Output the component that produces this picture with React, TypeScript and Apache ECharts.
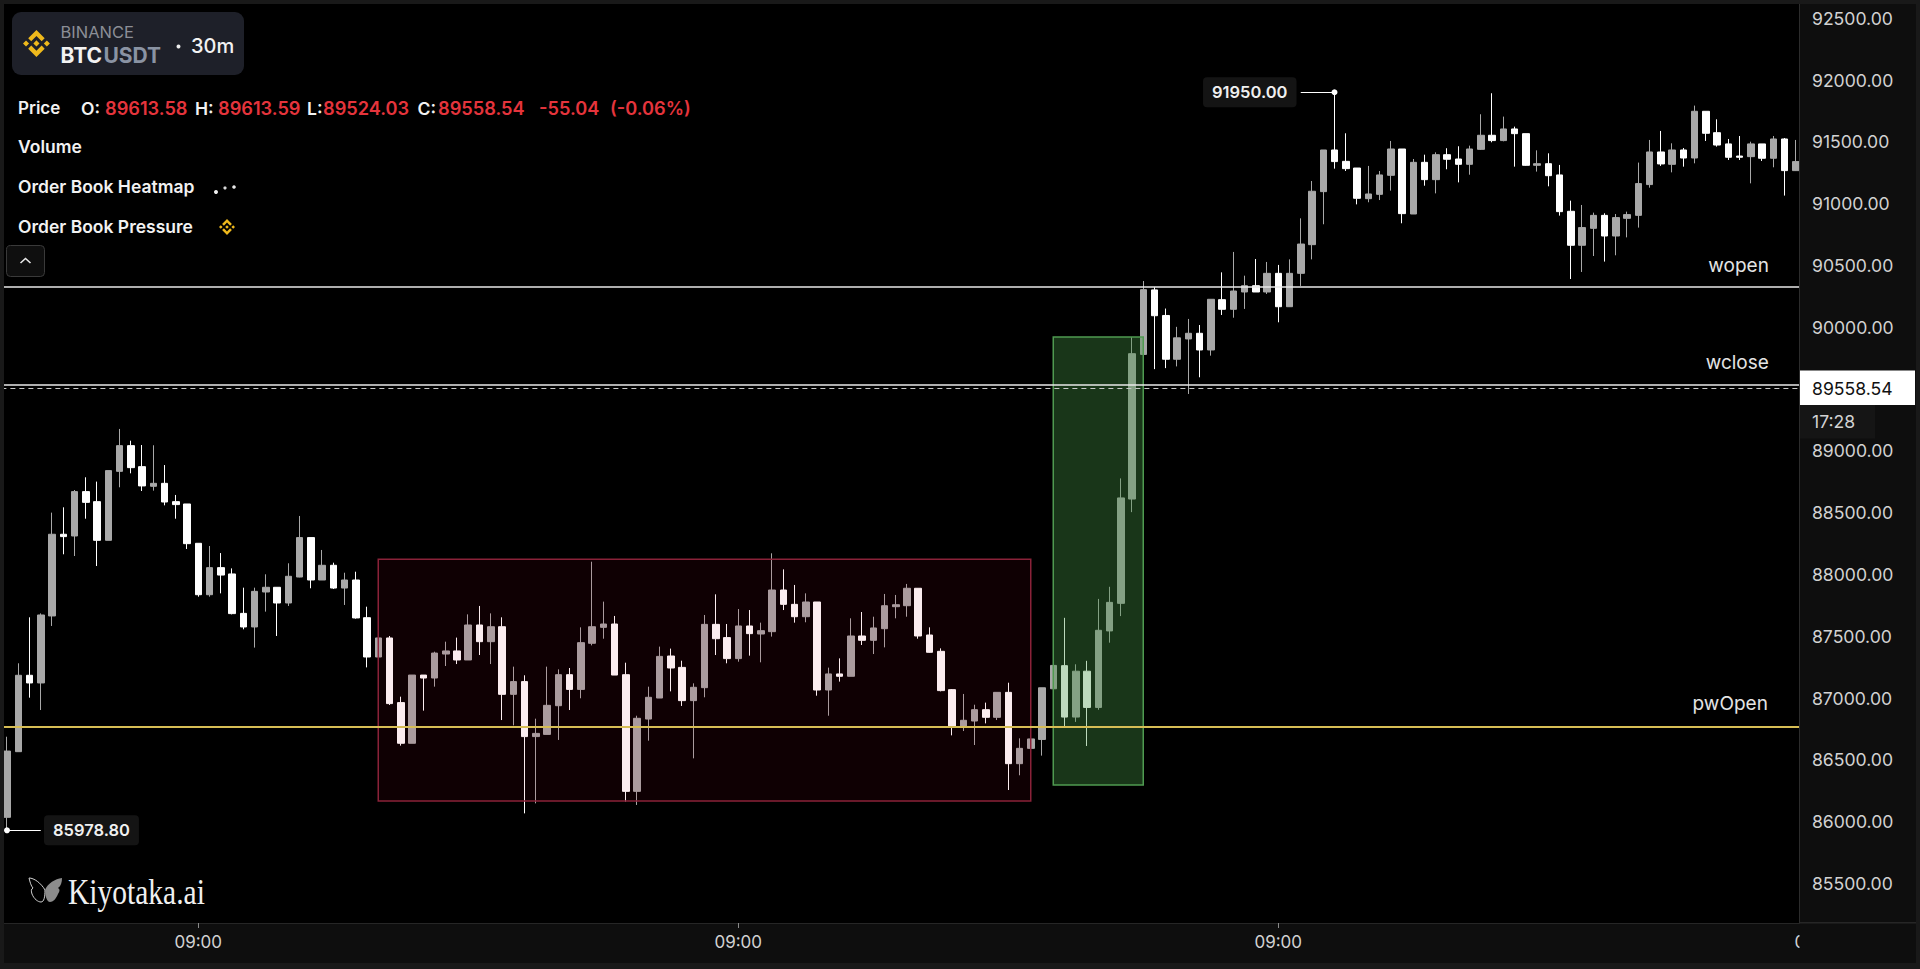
import React, { useEffect, useRef } from "react";
import * as echarts from "echarts";

const opens = [
86084,86615,87233,87171,87713,88374,88360,88719,88638,88325,
88883,89091,88921,88762,88786,88638,88619,88301,87885,88104,
88053,87734,87624,87907,87945,87818,88028,88347,88004,88123,
87939,88004,87699,87381,87535,87012,86683,87235,87211,87405,
87430,87357,87640,87505,87626,87079,87182,86737,86755,86987,
87238,87119,87492,87621,87648,87238,86294,86879,87049,87389,
87297,87028,87133,87645,87538,87368,87632,87567,87586,87923,
87807,87707,87826,87114,87244,87225,87551,87516,87610,87788,
87796,87937,87559,87427,87117,86823,86863,86955,86893,87095,
86518,86642,86714,87124,87311,86895,87266,86973,87592,87815,
88659,89829,90351,90144,89790,89954,90000,89865,90272,90194,
90334,90385,90334,90485,90215,90485,90717,91146,91483,91391,
91337,91089,91124,91278,91491,90965,91383,91243,91445,91410,
91367,91488,91602,91559,91653,91615,91359,91372,91281,90987,
90712,90849,90954,90787,90930,90954,91203,91467,91367,91483,
91418,91796,91623,91532,91434,91429,91532,91416,91572,91316];
const closes = [
86620,87233,87171,87721,88374,88355,88719,88632,88325,88889,
89091,88913,88765,88786,88635,88614,88298,87885,88104,88044,
87732,87624,87912,87945,87818,88034,88347,88004,88123,87939,
88004,87697,87381,87535,87004,86683,87235,87211,87413,87430,
87357,87640,87505,87626,87079,87182,86737,86763,86990,87238,
87119,87497,87626,87648,87235,86294,86885,87055,87386,87292,
87028,87136,87645,87529,87368,87632,87570,87594,87923,87807,
87707,87826,87114,87244,87225,87551,87516,87616,87796,87804,
87937,87551,87419,87109,86823,86869,86955,86893,87095,86518,
86642,86718,87132,87313,86895,87266,86973,87597,87823,88668,
89835,90353,90142,89790,89963,90000,89865,90275,90194,90342,
90385,90334,90485,90215,90485,90722,91149,91483,91389,91332,
91092,91127,91281,91491,90968,91383,91243,91445,91408,91367,
91491,91602,91559,91653,91615,91359,91372,91275,90984,90712,
90855,90954,90787,90936,90960,91211,91467,91370,91483,91418,
91796,91618,91523,91424,91424,91532,91416,91572,91316,91389];
const lows = [
85979,86615,87052,86952,87632,88212,88198,88500,88117,88325,
88754,88867,88724,88727,88608,88500,88255,87869,87869,87896,
87726,87605,87457,87748,87551,87794,88026,87937,88004,87931,
87802,87691,87297,87381,86993,86664,86683,86947,87141,87308,
87324,87357,87397,87324,86871,86828,86116,86197,86755,86710,
86952,87047,87475,87529,87235,86211,86184,86704,87049,87103,
86985,86561,87055,87397,87330,87343,87392,87338,87546,87761,
87659,87662,87068,86906,87182,87225,87478,87405,87459,87694,
87707,87529,87416,87103,86747,86782,86669,86844,86871,86305,
86424,86642,86583,87124,86820,86856,86661,86954,87497,87712,
88553,89829,89710,89718,89732,89509,89644,89819,90148,90126,
90197,90334,90318,90089,90215,90383,90598,90882,91332,91313,
91043,91060,91078,91154,90890,90965,91194,91132,91327,91221,
91283,91483,91545,91553,91348,91356,91308,91189,90952,90439,
90496,90625,90580,90631,90776,90855,91178,91354,91302,91348,
91375,91556,91510,91402,91402,91213,91394,91343,91114,91313];
const highs = [
86736,87330,87702,87734,88549,88592,88732,88835,88800,88889,
89226,89131,89096,89094,88934,88692,88619,88301,88279,88222,
88098,87942,87942,88050,87945,88139,88522,88347,88247,88144,
88063,88071,87788,87535,87551,87060,87235,87235,87424,87505,
87538,87726,87794,87734,87702,87303,87233,86882,87303,87281,
87292,87621,88152,87829,87713,87335,86906,87141,87465,87449,
87351,87168,87721,87888,87648,87769,87761,87659,88220,88090,
87964,87896,87826,87295,87370,87694,87745,87707,87891,87883,
87972,87937,87621,87451,87122,87082,86995,87012,87095,87173,
86723,86718,87132,87313,87698,87322,87350,87851,87949,88826,
89969,90423,90373,90200,90052,90116,90067,90275,90493,90658,
90466,90601,90577,90553,90598,90930,91232,91483,91950,91618,
91337,91354,91313,91556,91491,91410,91445,91464,91497,91513,
91518,91772,91942,91753,91672,91615,91480,91456,91362,91073,
91038,90976,90971,90965,90984,91381,91564,91637,91537,91499,
91842,91796,91731,91572,91596,91550,91532,91596,91580,91564];

// 30-minute bars; bar 17 opens a new day at 09:00, and the axis runs on past the last bar.
const categories = Array.from({ length: 162 }, (_, i) => {
  const m = ((9 * 60 + (i - 17) * 30) % 1440 + 1440) % 1440;
  return `${String(Math.floor(m / 60)).padStart(2, "0")}:${String(m % 60).padStart(2, "0")}`;
});
const priceTicks = [85500, 86000, 86500, 87000, 87500, 88000, 88500, 89000, 89500, 90000, 90500, 91000, 91500, 92000, 92500];
const levels = [
  { name: "wopen", price: 90375 },
  { name: "wclose", price: 89587 },
  { name: "pwOpen", price: 86820 },
];
const livePriceLevel = 89558.54;
const redRange = { from: 33, to: 91, top: 88171, bottom: 86216 };
const greenRange = { from: 93, to: 101, top: 89969, bottom: 86346 };
const highMark = { index: 118, price: 91950 };
const lowMark = { index: 0, price: 85978.8 };

const BNB = "M9.8 13.4 16 7.2l6.2 6.2 3.6-3.6L16 0 6.2 9.8zM0 16l3.6-3.6L7.2 16l-3.6 3.6zM9.8 18.6 16 24.8l6.2-6.2 3.6 3.6L16 32l-9.8-9.8zM24.8 16l3.6-3.6L32 16l-3.6 3.6zM19.65 16 16 12.35 12.35 16 16 19.65z";
const WING_L = "M17 13C13 6 6 1 1 1c1 4 2 8 4 10-2 1-2 3-1 6 2 5 6 8 9 8 3 0 4-5 4-12z";
const WING_R = "M0 13C3 6 10 2 17 1c0 4-1 8-4 10 2 1 2 3 0 6-2 5-5 8-8 8-3 0-5-6-5-12z";
echarts.graphic.registerShape("bnb", echarts.graphic.extendPath(BNB, {}));
echarts.graphic.registerShape("wingL", echarts.graphic.extendPath(WING_L, {}));
echarts.graphic.registerShape("wingR", echarts.graphic.extendPath(WING_R, {}));

const UI = "Inter, 'Noto Sans', sans-serif";
const txt = (x: number, y: number, text: string, fill: string, size: number, weight: number | string = 400, z = 30, extra: any = {}) => ({
  type: "text", x, y, z, silent: true,
  style: { text, fill, font: `${weight} ${size}px ${UI}`, verticalAlign: "middle", ...extra },
});

export default function App() {
  const ref = useRef<HTMLDivElement>(null);
  useEffect(() => {
    document.body.style.margin = "0";
    document.body.style.background = "#000";
    const chart = echarts.init(ref.current!, null, { renderer: "svg" });
    const markerLabel = (position: string, distance: number) => ({
      show: true, position, distance,
      formatter: (p: any) => Number(p.value).toFixed(2),
      color: "#f0f0f0", fontFamily: UI, fontSize: 16.5, fontWeight: 600,
      backgroundColor: "#141414", padding: [7, 9, 6, 9], borderRadius: 4,
    });
    chart.setOption({
      animation: false,
      backgroundColor: "#000000",
      grid: { left: 1.375, top: 4, width: 1822.5, height: 919, containLabel: false },
      xAxis: {
        type: "category", data: categories, boundaryGap: true, z: 3,
        axisLine: { show: true, lineStyle: { color: "#262626", width: 1 } },
        axisTick: { show: true, alignWithLabel: true, length: 5, lineStyle: { color: "#8a8a8a" }, interval: (_: number, v: string) => v === "09:00" },
        axisLabel: { color: "#d2d2d2", fontFamily: UI, fontSize: 17, margin: 10, interval: (_: number, v: string) => v === "09:00" },
        splitLine: { show: false },
      },
      yAxis: {
        type: "value", position: "right", offset: -24.9, min: 85229, max: 92664, scale: true, z: 10,
        axisLine: { show: true, lineStyle: { color: "#2c2c2c", width: 1 } },
        axisTick: { show: false },
        splitLine: { show: false },
        axisLabel: {
          color: "#d2d2d2", fontFamily: UI, fontSize: 17.6, lineHeight: 12, margin: 13, verticalAlign: "bottom",
          customValues: priceTicks, formatter: (v: number) => v.toFixed(2),
        },
      },
      series: [
        {
          type: "candlestick", z: 2, barWidth: 7,
          data: opens.map((o, i) => [o, closes[i], lows[i], highs[i]]),
          itemStyle: { color: "#a8a8a8", color0: "#ffffff", borderColor: "#a8a8a8", borderColor0: "#ffffff", borderWidth: 1 },
          markPoint: {
            silent: true, symbol: "circle", symbolSize: 6, z: 6,
            itemStyle: { color: "#ffffff" },
            data: [
              { coord: [highMark.index, highMark.price], value: highMark.price, label: markerLabel("left", 35) },
              { coord: [lowMark.index, lowMark.price], value: lowMark.price, label: markerLabel("right", 34) },
            ],
          },
          markLine: {
            silent: true, symbol: "none", z: 6, animation: false,
            lineStyle: { color: "#ffffff", width: 1, type: "solid" },
            label: { show: false },
            data: [
              [{ coord: [highMark.index, highMark.price] }, { coord: [highMark.index - 3, highMark.price] }],
              [{ coord: [lowMark.index, lowMark.price] }, { coord: [lowMark.index + 3, lowMark.price] }],
              ...levels.map((l, i) => ({
                yAxis: l.price, name: l.name,
                lineStyle: { color: i === 2 ? "#d6bd55" : "#e8e8e8", width: i === 2 ? 2 : 1.5, type: "solid" },
                label: {
                  show: true, position: "insideEndTop", formatter: "{b}", distance: i === 2 ? 13 : 12,
                  color: "#e4e4e4", fontFamily: UI, fontSize: 19, padding: [0, 43, 0, 0],
                },
              })),
              { yAxis: livePriceLevel, lineStyle: { color: "#c8c8c8", width: 1, type: [5, 4] } },
            ],
          },
        },
        {
          type: "line", data: [], z: 4, silent: true,
          markArea: {
            silent: true, z: 4,
            data: [
              [
                { coord: [redRange.from, redRange.top], itemStyle: { color: "rgba(200,0,40,0.075)", borderColor: "#8a2239", borderWidth: 1.5 } },
                { coord: [redRange.to, redRange.bottom] },
              ],
              [
                { coord: [greenRange.from, greenRange.top], itemStyle: { color: "rgba(70,150,70,0.36)", borderColor: "#4f9a50", borderWidth: 1.5 } },
                { coord: [greenRange.to, greenRange.bottom] },
              ],
            ],
          },
        },
      ],
      graphic: [
        // frame and panels
        { type: "rect", z: 8, silent: true, shape: { x: 1799.5, y: 0, width: 121, height: 969 }, style: { fill: "#0e0e0e" } },
        { type: "rect", z: 9, silent: true, shape: { x: 1799, y: 922, width: 121, height: 1.5 }, style: { fill: "#262626" } },
        { type: "rect", z: 1, silent: true, shape: { x: 0, y: 923, width: 1800, height: 40 }, style: { fill: "#0e0e0e" } },
        { type: "rect", z: 20, silent: true, shape: { x: 0, y: 0, width: 1920, height: 4 }, style: { fill: "#191919" } },
        { type: "rect", z: 20, silent: true, shape: { x: 0, y: 0, width: 4, height: 969 }, style: { fill: "#191919" } },
        { type: "rect", z: 20, silent: true, shape: { x: 1916, y: 0, width: 4, height: 969 }, style: { fill: "#191919" } },
        { type: "rect", z: 20, silent: true, shape: { x: 0, y: 963, width: 1920, height: 6 }, style: { fill: "#191919" } },
        // live price tags
        { type: "rect", z: 25, silent: true, shape: { x: 1800, y: 370.5, width: 115, height: 34.5 }, style: { fill: "#ffffff" } },
        txt(1812, 388, "89558.54", "#111111", 17.6, 400),
        { type: "rect", z: 25, silent: true, shape: { x: 1800, y: 405, width: 75, height: 33.5 }, style: { fill: "#151515" } },
        txt(1812, 421, "17:28", "#d2d2d2", 17.6, 400),
        // symbol badge
        { type: "rect", z: 25, silent: true, shape: { x: 12, y: 12, width: 232, height: 63, r: 9 }, style: { fill: "#1e2029" } },
        { type: "bnb", z: 30, silent: true, x: 23, y: 30, scaleX: 0.84, scaleY: 0.84, style: { fill: "#efb91c" } },
        txt(60.5, 32, "BINANCE", "#8b8e96", 16.5, 400),
        txt(60.5, 55.5, "BTC", "#f2f2f2", 21, 700),
        txt(103.5, 55.5, "USDT", "#8a93a3", 21, 700),
        { type: "circle", z: 30, silent: true, shape: { cx: 178.5, cy: 46.5, r: 2 }, style: { fill: "#eeeeee" } },
        txt(191, 46, "30m", "#f2f2f2", 20, 500),
        // legend
        txt(18, 108, "Price", "#f2f2f2", 17, 600),
        txt(81, 108, "O:", "#f2f2f2", 17.5, 600),
        txt(105, 108, "89613.58", "#e5343c", 18.2, 600),
        txt(195, 108, "H:", "#f2f2f2", 17.5, 600),
        txt(218, 108, "89613.59", "#e5343c", 18.2, 600),
        txt(307, 108, "L:", "#f2f2f2", 17.5, 600),
        txt(323, 108, "89524.03", "#e5343c", 18.2, 600),
        txt(417.5, 108, "C:", "#f2f2f2", 17.5, 600),
        txt(438, 108, "89558.54", "#e5343c", 18.2, 600),
        txt(539, 108, "-55.04", "#e5343c", 18.2, 600),
        txt(610, 108, "(-0.06%)", "#e5343c", 18.2, 600),
        txt(18, 146.5, "Volume", "#f2f2f2", 17.5, 600),
        txt(18, 186.5, "Order Book Heatmap", "#f2f2f2", 17.5, 600),
        txt(18, 226, "Order Book Pressure", "#f2f2f2", 17.5, 600),
        { type: "circle", z: 30, silent: true, shape: { cx: 216, cy: 192, r: 2 }, style: { fill: "#f0f0f0" } },
        { type: "circle", z: 30, silent: true, shape: { cx: 225, cy: 188, r: 1.6 }, style: { fill: "#d8d8d8" } },
        { type: "circle", z: 30, silent: true, shape: { cx: 234, cy: 187, r: 1.8 }, style: { fill: "#e8e8e8" } },
        { type: "bnb", z: 30, silent: true, x: 219, y: 219, scaleX: 0.5, scaleY: 0.5, style: { fill: "#efb91c" } },
        // collapse button
        { type: "rect", z: 25, silent: true, shape: { x: 6.5, y: 245.5, width: 38, height: 31, r: 4 }, style: { fill: "#0f0f0f", stroke: "#3a3a3a", lineWidth: 1 } },
        { type: "polyline", z: 30, silent: true, shape: { points: [[20.5, 263], [25.5, 258.5], [30.5, 263]] }, style: { stroke: "#e8e8e8", lineWidth: 1.6, fill: "none" } },
        // brand
        { type: "wingL", z: 30, silent: true, x: 28, y: 877, style: { fill: "none", stroke: "#cfcfcf", lineWidth: 1 } },
        { type: "wingR", z: 30, silent: true, x: 45, y: 877, style: { fill: "#8c8c8c" } },
        {
          type: "text", z: 30, silent: true, x: 68, y: 892, scaleX: 0.82, scaleY: 1,
          style: { text: "Kiyotaka.ai", fill: "#f0f0f0", font: "400 36px 'Liberation Serif', serif", verticalAlign: "middle" },
        },
      ],
    });
    return () => chart.dispose();
  }, []);
  return <div ref={ref} style={{ position: "fixed", left: 0, top: 0, width: 1920, height: 969 }} />;
}
